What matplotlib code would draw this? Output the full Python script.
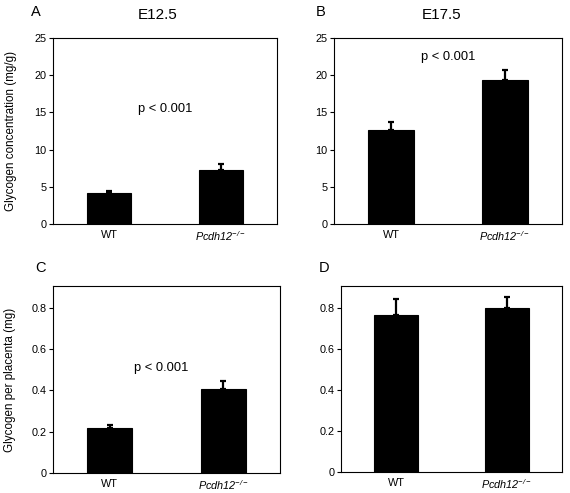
import matplotlib
matplotlib.use("Agg")
import matplotlib.pyplot as plt

plt.rcParams['font.family'] = ['Liberation Sans', 'DejaVu Sans']
plt.rcParams['mathtext.fontset'] = 'custom'
plt.rcParams['mathtext.rm'] = 'Liberation Sans:italic'
plt.rcParams['mathtext.it'] = 'Liberation Sans:italic'
plt.rcParams['mathtext.default'] = 'it'

groups = ["WT", "$Pcdh12^{-/-}$"]

conc_e125 = [4.1, 7.3]
conc_e125_err = [0.4, 0.8]
conc_e175 = [12.7, 19.4]
conc_e175_err = [1.0, 1.3]
plac_e125 = [0.22, 0.405]
plac_e125_err = [0.013, 0.04]
plac_e175 = [0.765, 0.80]
plac_e175_err = [0.075, 0.05]

conc_ticks = [0, 5, 10, 15, 20, 25]
plac_ticks = [0, 0.2, 0.4, 0.6, 0.8]
plac_ticklabels = ["0", "0.2", "0.4", "0.6", "0.8"]

W, H = 570, 493
fig = plt.figure(figsize=(W/100, H/100), dpi=100)

def ax_at(l, t, r, b):
    return fig.add_axes([l/W, 1 - b/H, (r-l)/W, (b-t)/H])

panels = [
    (ax_at(53, 38, 277, 224), conc_e125, conc_e125_err, (0, 25), conc_ticks, [str(t) for t in conc_ticks]),
    (ax_at(334, 38, 562, 224), conc_e175, conc_e175_err, (0, 25), conc_ticks, [str(t) for t in conc_ticks]),
    (ax_at(53, 286, 280, 473), plac_e125, plac_e125_err, (0, 0.905), plac_ticks, plac_ticklabels),
    (ax_at(341, 286, 562, 472), plac_e175, plac_e175_err, (0, 0.905), plac_ticks, plac_ticklabels),
]

for ax, vals, errs, ylim, ticks, tlabels in panels:
    x = list(range(len(vals)))
    ax.bar(x, vals, width=0.4, color='black', edgecolor='black', linewidth=0.8,
           yerr=[[0]*len(errs), errs], error_kw=dict(ecolor='black', elinewidth=1.6, capsize=2.5, capthick=1.6))
    ax.set_xlim(-0.5, 1.5)
    ax.set_ylim(*ylim)
    ax.set_yticks(ticks)
    ax.set_yticklabels(tlabels)
    ax.set_xticks(x)
    ax.set_xticklabels(groups)
    ax.tick_params(axis='x', length=0, labelsize=7.8, pad=4)
    ax.tick_params(axis='y', length=3, width=0.8, labelsize=7.8, pad=1.5, direction='out')
    for s in ax.spines.values():
        s.set_linewidth(0.8)

axA, axB, axC, axD = [p[0] for p in panels]
axA.set_ylabel("Glycogen concentration (mg/g)", fontsize=8.4)
axA.yaxis.set_label_coords(-0.16, 0.5)
axC.set_ylabel("Glycogen per placenta (mg)", fontsize=8.4)
axC.yaxis.set_label_coords(-0.165, 0.5)

axA.text(0.5, 15.4, "p < 0.001", ha='center', va='center', fontsize=9.3)
axB.text(0.5, 22.5, "p < 0.001", ha='center', va='center', fontsize=9.3)
axC.text(0.45, 0.506, "p < 0.001", ha='center', va='center', fontsize=9.3)

fig.text(36/W, 1 - 12/H, "A", fontsize=10.5, ha='center', va='center')
fig.text(158/W, 1 - 15/H, "E12.5", fontsize=11, ha='center', va='center')
fig.text(321/W, 1 - 12/H, "B", fontsize=10.5, ha='center', va='center')
fig.text(442/W, 1 - 15/H, "E17.5", fontsize=11, ha='center', va='center')
fig.text(40/W, 1 - 268/H, "C", fontsize=10.5, ha='center', va='center')
fig.text(324/W, 1 - 268/H, "D", fontsize=10.5, ha='center', va='center')

fig.savefig("out.png", dpi=100)
